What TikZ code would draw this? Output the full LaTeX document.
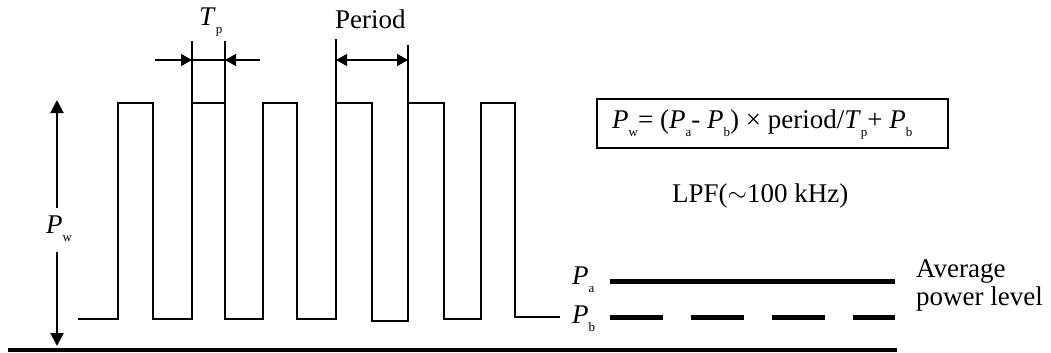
\documentclass[tikz,border=0pt]{standalone}
\usepackage{fontspec}
\setmainfont{Liberation Serif}
\usetikzlibrary{arrows.meta}
\newcommand\mysub[1]{\raisebox{-8pt}{\fontsize{13}{13}\selectfont #1}}
\tikzset{
  wave/.style={line width=2.4pt, line join=miter},
  thin ext/.style={line width=1.2pt},
  dimarrow/.style={line width=1.3pt, -{Triangle[length=11pt,width=12pt]}},
  bigarrow/.style={line width=2pt, -{Triangle[length=13pt,width=13pt]}},
  level/.style={line width=5pt},
  lbl/.style={inner sep=0pt, anchor=base west, font=\fontsize{27}{30}\selectfont},
}
\begin{document}
\begin{tikzpicture}[x=1pt,y=-1pt]
\useasboundingbox (0,0) rectangle (1051,353);
% waveform
\draw[wave] (78,319) -- (118,319) -- (118,103) -- (153,103) -- (153,319)
  -- (192,319) -- (192,103) -- (225,103) -- (225,319)
  -- (263,319) -- (263,103) -- (297,103) -- (297,319)
  -- (336,319) -- (336,103) -- (372,103) -- (372,321)
  -- (408,321) -- (408,103) -- (444,103) -- (444,319)
  -- (481,319) -- (481,103) -- (515,103) -- (515,317) -- (560,317);
% ground line
\coordinate (g0) at (8,350);
\coordinate (g1) at (897,350);
\draw[line width=4.5pt] (g0) -- (g1);
% Tp dimension
\coordinate (tpa) at (192,41); \coordinate (tpa0) at (192,103);
\coordinate (tpb) at (225,41); \coordinate (tpb0) at (225,103);
\draw[thin ext] (tpa) -- (tpa0);
\draw[thin ext] (tpb) -- (tpb0);
\coordinate (tpl) at (155,60); \coordinate (tpr) at (260,60);
\coordinate (tpm1) at (192,60); \coordinate (tpm2) at (225,60);
\draw[dimarrow] (tpl) -- (tpm1);
\draw[dimarrow] (tpr) -- (tpm2);
\draw[line width=1.3pt] (tpm1) -- (tpm2);
\node[lbl] (tp) at (199,26) {\textit{T}\mysub{p}};
% Period dimension
\coordinate (pa) at (336,39); \coordinate (pa0) at (336,103);
\coordinate (pb) at (408,45); \coordinate (pb0) at (408,103);
\draw[thin ext] (pa) -- (pa0);
\draw[thin ext] (pb) -- (pb0);
\coordinate (pm1) at (336,60); \coordinate (pm2) at (408,60);
\draw[line width=1.3pt, {Triangle[length=11pt,width=12pt]}-{Triangle[length=11pt,width=12pt]}] (pm1) -- (pm2);
\node[lbl] (period) at (335,29) {Period};
% Pw arrow
\node[lbl] (pw) at (46,233) {\textit{P}\mysub{w}};
\coordinate (pwtop) at (57,100); \coordinate (pwup) at (57,208);
\coordinate (pwdn) at (57,252); \coordinate (pwbot) at (57,346);
\draw[bigarrow] (pwup) -- (pwtop);
\draw[bigarrow] (pwdn) -- (pwbot);
% formula box
\draw[line width=1.2pt] (597,99) rectangle (948,148);
\node[lbl] (formula) at (612,128) {\textit{P}\mysub{w}= (\textit{P}\mysub{a}- \textit{P}\mysub{b}) × period/\textit{T}\mysub{p}+ \textit{P}\mysub{b}};
\node[lbl] (lpf) at (672,202) {LPF(\raisebox{1pt}{$\sim$}100 kHz)};
% levels
\node[lbl] (pal) at (572,284) {\textit{P}\mysub{a}};
\node[lbl] (pbl) at (572,323) {\textit{P}\mysub{b}};
\coordinate (la0) at (610,281); \coordinate (la1) at (895,281);
\coordinate (lb0) at (610,317); \coordinate (lb1) at (895,317);
\draw[level] (la0) -- (la1);
\draw[level, dash pattern=on 53pt off 28pt] (lb0) -- (lb1);
\node[lbl, align=left, anchor=base west] (avg) at (916,305) {Average\\[-2pt]power level};
\end{tikzpicture}
\end{document}
